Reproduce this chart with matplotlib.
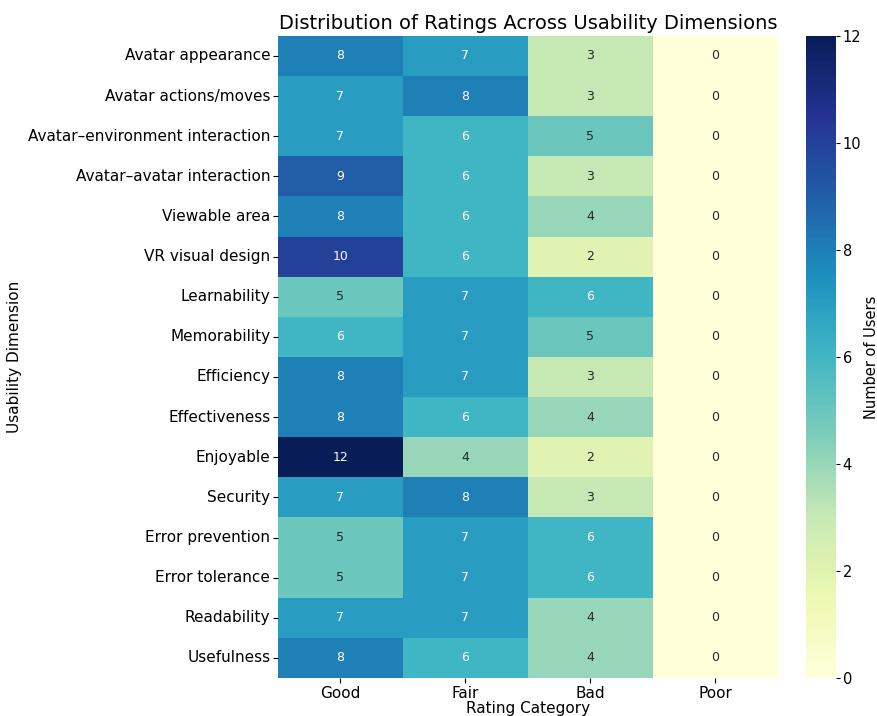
import matplotlib
matplotlib.use("Agg")
from matplotlib import pyplot as plt
import numpy as np
import pandas as pd
import seaborn as sns

dimensions = [
    "Avatar appearance", "Avatar actions/moves", "Avatar\u2013environment interaction",
    "Avatar\u2013avatar interaction", "Viewable area", "VR visual design", "Learnability",
    "Memorability", "Efficiency", "Effectiveness", "Enjoyable", "Security",
    "Error prevention", "Error tolerance", "Readability", "Usefulness",
]
categories = ["Good", "Fair", "Bad", "Poor"]
good = [8, 7, 7, 9, 8, 10, 5, 6, 8, 8, 12, 7, 5, 5, 7, 8]
fair = [7, 8, 6, 6, 6, 6, 7, 7, 7, 6, 4, 8, 7, 7, 7, 6]
bad = [3, 3, 5, 3, 4, 2, 6, 5, 3, 4, 2, 3, 6, 6, 4, 4]
poor = [0] * 16

df = pd.DataFrame({"Good": good, "Fair": fair, "Bad": bad, "Poor": poor},
                  index=dimensions)[categories]

fig = plt.figure(figsize=(8.78, 7.16), dpi=100)
ax = fig.add_axes([0.3166, 0.053, 0.5695, 0.897])
cax = fig.add_axes([0.918, 0.053, 0.034, 0.897])

sns.heatmap(df, annot=True, fmt="d", cmap="YlGnBu", ax=ax, cbar_ax=cax,
            vmin=0, vmax=12, annot_kws={"fontsize": 9})

ax.set_title("Distribution of Ratings Across Usability Dimensions", fontsize=14, pad=5)
ax.set_xlabel("Rating Category", fontsize=11, labelpad=0)
ax.set_ylabel("Usability Dimension", fontsize=11)
ax.tick_params(axis="x", labelsize=11, rotation=0, pad=2)
ax.tick_params(axis="y", labelsize=11, rotation=0, pad=2)
cax.tick_params(labelsize=10.5, pad=2, length=3)
cax.set_ylabel("Number of Users", fontsize=10.5, labelpad=2)

fig.savefig("out.png", dpi=100)
